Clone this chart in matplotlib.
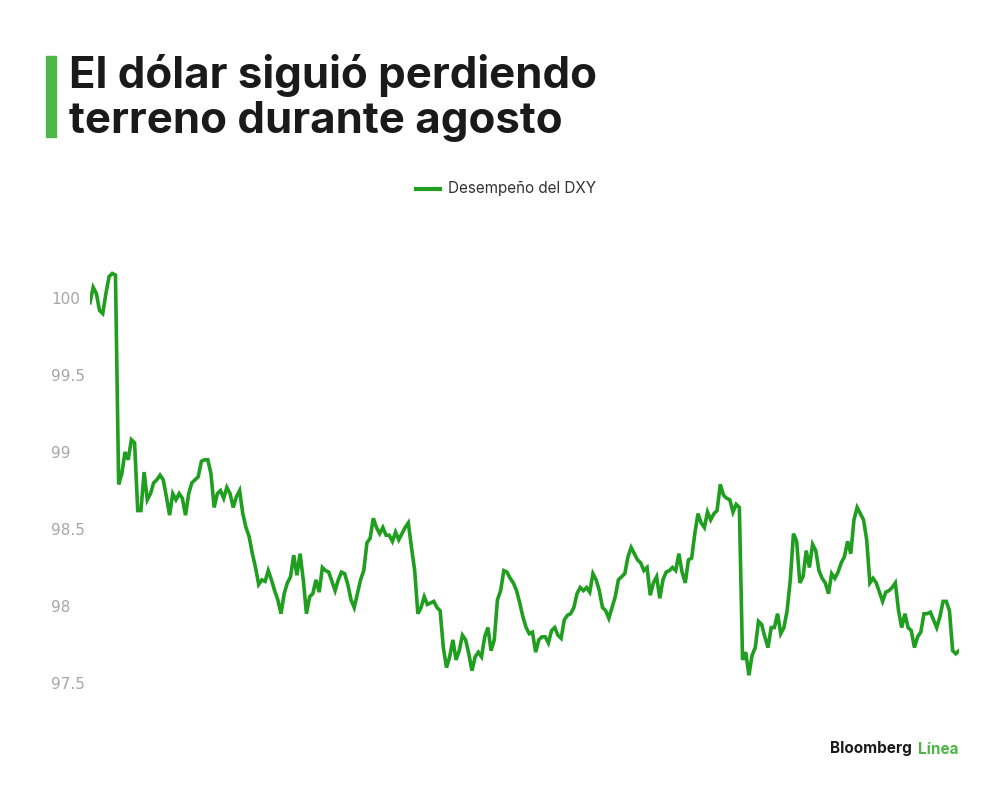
import numpy as np
import matplotlib.pyplot as plt
from matplotlib.ticker import FuncFormatter

# Valores del DXY (agosto), en orden cronológico
dxy_1 = [99.97, 100.07, 100.03, 99.92, 99.90, 100.03, 100.14, 100.16,
         100.15, 98.79, 98.86, 99.00, 98.95, 99.08, 99.06, 98.62, 98.62, 98.87,
         98.69, 98.73, 98.80, 98.82, 98.85, 98.82, 98.71, 98.59, 98.73, 98.69,
         98.73, 98.70, 98.59, 98.73, 98.80, 98.82, 98.84, 98.94, 98.95, 98.95,
         98.86, 98.64, 98.73, 98.75, 98.70, 98.77, 98.73, 98.64, 98.71, 98.75,
         98.60, 98.51, 98.45, 98.34, 98.25, 98.14, 98.17, 98.16, 98.23, 98.17,
         98.10, 98.04, 97.95, 98.08, 98.15, 98.19, 98.33, 98.20, 98.34, 98.17,
         97.95, 98.06, 98.08, 98.17, 98.09, 98.25, 98.23, 98.22, 98.16, 98.10,
         98.17, 98.22, 98.21, 98.14, 98.04, 97.99, 98.08, 98.17, 98.23, 98.41,
         98.44, 98.57, 98.51, 98.47, 98.51, 98.46, 98.46, 98.42, 98.48, 98.43]
dxy_2 = [98.47, 98.51, 98.54, 98.38, 98.23, 97.95, 97.99, 98.06, 98.01, 98.02,
         98.03, 97.99, 97.97, 97.73, 97.60, 97.67, 97.78, 97.65, 97.71, 97.81,
         97.78, 97.69, 97.58, 97.67, 97.70, 97.67, 97.80, 97.86, 97.71, 97.78,
         98.04, 98.10, 98.23, 98.22, 98.18, 98.15, 98.10, 98.02, 97.93, 97.86,
         97.82, 97.83, 97.70, 97.78, 97.80, 97.80, 97.76, 97.84, 97.86, 97.81,
         97.79, 97.91, 97.94, 97.95, 97.99, 98.08, 98.12, 98.10, 98.12, 98.09,
         98.21, 98.17, 98.10, 97.99, 97.97, 97.92, 97.99, 98.06, 98.17, 98.19,
         98.21, 98.32, 98.38, 98.34, 98.30, 98.28, 98.23, 98.25, 98.07, 98.15,
         98.19, 98.05, 98.17, 98.22, 98.23, 98.25, 98.23, 98.34, 98.22, 98.15,
         98.30, 98.31, 98.47, 98.60]
dxy_3 = [98.54, 98.51, 98.61, 98.56, 98.60, 98.62, 98.79, 98.72, 98.70, 98.69,
         98.61, 98.66, 98.64, 97.65, 97.70, 97.55, 97.68, 97.73, 97.90, 97.88,
         97.80, 97.73, 97.86, 97.86, 97.95, 97.82, 97.86, 97.97, 98.17, 98.47,
         98.42, 98.15, 98.19, 98.36, 98.25, 98.40, 98.36, 98.23, 98.18, 98.15,
         98.08, 98.21, 98.18, 98.22, 98.28, 98.32, 98.42, 98.34, 98.56, 98.64,
         98.60, 98.56, 98.43, 98.15, 98.18, 98.15, 98.09, 98.03, 98.09, 98.10,
         98.12, 98.15, 97.97, 97.86, 97.95, 97.86, 97.84, 97.73, 97.80, 97.83,
         97.95, 97.95, 97.96, 97.91, 97.86, 97.93, 98.03, 98.03, 97.97, 97.71,
         97.69, 97.71]
y_ticks = [97.5, 98, 98.5, 99, 99.5, 100]

titulo_1 = "El dólar siguió perdiendo"
titulo_2 = "terreno durante agosto"
leyenda = "Desempeño del DXY"

verde_linea = '#1f9e1f'
verde_barra = '#4cb648'
gris_ticks = '#a6a6a6'

dxy = np.array(dxy_1 + dxy_2 + dxy_3)
t = np.arange(len(dxy))

fig = plt.figure(figsize=(10, 7.9), dpi=100, facecolor='w')
ax = fig.add_axes([0.09, 0.0965, 0.869, 0.5846])
ax.plot(t, dxy, color=verde_linea, linewidth=2.6, solid_joinstyle='miter')

ax.set_xlim(0, len(dxy) - 1)
ax.set_ylim(97.3, 100.3)
ax.set_xticks([])
ax.set_yticks(y_ticks)
ax.yaxis.set_major_formatter(FuncFormatter(lambda v, p: '{:g}'.format(v)))
ax.tick_params(axis='y', length=0, pad=28, labelsize=11, labelcolor=gris_ticks)
for lab in ax.get_yticklabels():
    lab.set_horizontalalignment('left')
for s in ax.spines.values():
    s.set_visible(False)

# Titulo con barra verde
fig.patches.append(plt.Rectangle((0.046, 1 - 137 / 790), 0.010, 81 / 790,
                                 transform=fig.transFigure, color=verde_barra))
fig.text(0.069, 1 - 88 / 790, titulo_1, fontsize=31.5, fontweight='bold',
         family='Inter', color='#1a1a1a', va='baseline')
fig.text(0.069, 1 - 133 / 790, titulo_2, fontsize=31.5, fontweight='bold',
         family='Inter', color='#1a1a1a', va='baseline')

# Leyenda
fig.add_artist(plt.Line2D([0.416, 0.440], [1 - 189 / 790, 1 - 189 / 790],
                          transform=fig.transFigure, color=verde_linea, linewidth=3))
fig.text(0.448, 1 - 189 / 790, leyenda, fontsize=11, color='#333333',
         va='center', family='Inter')

# Firma
fig.text(0.830, 1 - 749 / 790, "Bloomberg", fontsize=11, fontweight='bold',
         color='#1a1a1a', va='center', family='Inter')
fig.text(0.918, 1 - 749 / 790, "Línea", fontsize=11, fontweight='bold',
         color=verde_barra, va='center', family='Inter')

plt.savefig("out.png", dpi=100)
